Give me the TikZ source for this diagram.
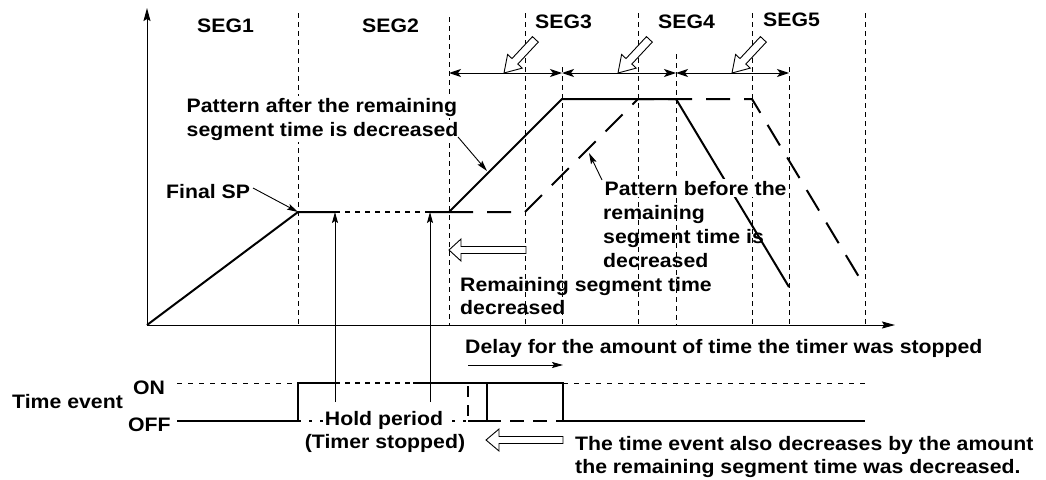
\documentclass[tikz,border=0pt]{standalone}
\usepackage{fontspec}
\setmainfont[FakeStretch=1.09]{Liberation Sans}
\usetikzlibrary{arrows.meta,calc}
\newcommand\hollowarr[6]{%
  \draw[hollow,shift={(#1)},rotate=#2] (0,0) -- (#4,-#5) -- (#4,-#6) -- (#3,-#6) -- (#3,#6) -- (#4,#6) -- (#4,#5) -- cycle;}
\begin{document}
\begin{tikzpicture}[x=1pt,y=-1pt,
  txt/.style={font=\fontsize{19.5}{24}\selectfont\bfseries, inner sep=0pt, anchor=base west},
  wtxt/.style={txt, fill=white, inner sep=1.5pt},
  grid/.style={line width=0.8pt, dash pattern=on 5pt off 4pt},
  curve/.style={line width=2pt, line join=miter},
  before/.style={line width=2pt, dash pattern=on 24pt off 14pt},
  holdl/.style={line width=2pt, dash pattern=on 5pt off 5pt},
  thinarr/.style={line width=0.9pt, -{Stealth[length=11pt,width=6pt,inset=2pt]}},
  axis/.style={line width=1pt, -{Stealth[length=13pt,width=7pt,inset=2pt]}},
  seg/.style={line width=1pt, {Stealth[length=12pt,width=8pt,inset=3pt]}-{Stealth[length=12pt,width=8pt,inset=3pt]}},
  hollow/.style={draw, fill=white, line width=0.9pt, line join=miter},
  onoff/.style={line width=0.8pt, dash pattern=on 5pt off 6pt},
  evt/.style={line width=2pt},
  evtdash/.style={line width=2pt, dash pattern=on 14pt off 9pt},
  evtdot/.style={line width=1.5pt, dash pattern=on 3pt off 8pt},
]
\useasboundingbox (0,0) rectangle (1046,479);

% grid lines
\foreach \x/\t in {298/13, 449/17, 525/13, 562/67, 638/13, 676/54, 752/13, 789/67, 865/13}
  \draw[grid] (\x,\t) -- (\x,325);

% key points
\coordinate (O) at (147,325);
\coordinate (A) at (298,212);
\coordinate (H1) at (335,212);
\coordinate (H2) at (430,212);
\coordinate (B) at (449,212);
\coordinate (C) at (562,99);
\coordinate (D) at (676,99);
\coordinate (E) at (789,287);
\coordinate (Bd) at (525,212);
\coordinate (Cd) at (638,99);
\coordinate (Dd) at (752,99);
\coordinate (Ed) at (865,287);
\coordinate (yt) at (147,8);
\coordinate (xt) at (895,325);

% axes
\draw[axis] (O) -- (yt);
\draw[axis] (O) -- (xt);

% segment labels
\node[txt] (seg1) at (197,32) {SEG1};
\node[txt] (seg2) at (362,32) {SEG2};
\node[txt] (seg3) at (535,28) {SEG3};
\node[txt] (seg4) at (658,28) {SEG4};
\node[txt] (seg5) at (763,27) {SEG5};

% segment span arrows
\coordinate (s0) at (449,73);
\coordinate (s1) at (562,73);
\coordinate (s2) at (676,73);
\coordinate (s3) at (789,73);
\draw[seg] (s0) -- (s1);
\draw[seg] (s1) -- (s2);
\draw[seg] (s2) -- (s3);

% hollow diagonal arrows
\coordinate (d1) at (504,73);
\coordinate (d2) at (618,73);
\coordinate (d3) at (732,73);
\hollowarr{d1}{47}{46}{16}{10}{4}
\hollowarr{d2}{47}{46}{16}{10}{4}
\hollowarr{d3}{47}{46}{16}{10}{4}

% pattern before (dashed)
\draw[before] (B) -- (Bd) -- (Cd) -- (Dd) -- (Ed);
% pattern after (solid)
\draw[curve] (O) -- (A) -- (H1);
\draw[holdl] (H1) -- (H2);
\draw[curve] (H2) -- (B) -- (C) -- (D) -- (E);

% labels on the graph
\node[wtxt] (pa1) at (185,112) {Pattern after the remaining};
\node[wtxt] (pa2) at (185,136) {segment time is decreased};
\coordinate (pas) at (458,137);
\coordinate (pat) at (487,171);
\draw[thinarr] (pas) -- (pat);

\node[txt] (fsp) at (166,198) {Final SP};
\coordinate (fss) at (253,188);
\draw[thinarr] (fss) -- (A);

\node[wtxt] (pb1) at (603,195) {Pattern before the};
\node[txt] (pb2) at (603,219) {remaining};
\node[txt] (pb3) at (603,243) {segment time is};
\node[txt] (pb4) at (603,267) {decreased};
\coordinate (pbs) at (602,180);
\coordinate (pbt) at (589,153);
\draw[thinarr] (pbs) -- (pbt);

\coordinate (ra) at (449,250);
\hollowarr{ra}{0}{77}{12}{11}{3.5}
\node[txt] (rs1) at (460,291) {Remaining segment time};
\node[txt] (rs2) at (460,314) {decreased};

% time event
\node[txt] (te) at (12,408) {Time event};
\node[txt] (on) at (133,394) {ON};
\node[txt] (off) at (128,431) {OFF};

\draw[onoff] (177,383) -- (298,383);
\draw[onoff] (563,383) -- (865,383);
\draw[evtdot] (298,421) -- (468,421);
\draw[evt] (177,421) -- (298,421) -- (298,383) -- (335,383);
\draw[evtdot, line width=2pt, dash pattern=on 5pt off 5pt] (335,383) -- (413,383);
\draw[evt] (413,383) -- (563,383) -- (563,421) -- (865,421);
\draw[evt] (487,383) -- (487,421) -- (468,421);
\draw[line width=2pt, dash pattern=on 11pt off 8pt] (468,386) -- (468,421);
\draw[evtdash] (487,421) -- (563,421);

\node[txt, fill=white, inner sep=2pt, anchor=base] (hp1) at (384,425) {Hold period};
\node[txt, anchor=base] (hp2) at (385,448) {(Timer stopped)};

\coordinate (h1b) at (335,402);
\coordinate (h2b) at (430,402);
\draw[thinarr] (h1b) -- (H1);
\draw[thinarr] (h2b) -- (H2);

\node[txt] (dl) at (465,353) {Delay for the amount of time the timer was stopped};
\coordinate (dls) at (468,365);
\coordinate (dle) at (563,365);
\draw[thinarr] (dls) -- (dle);

\coordinate (ba) at (486,440);
\hollowarr{ba}{0}{77}{13}{11}{3.5}
\node[txt] (tt1) at (575,450) {The time event also decreases by the amount};
\node[txt] (tt2) at (575,473) {the remaining segment time was decreased.};
\end{tikzpicture}
\end{document}
